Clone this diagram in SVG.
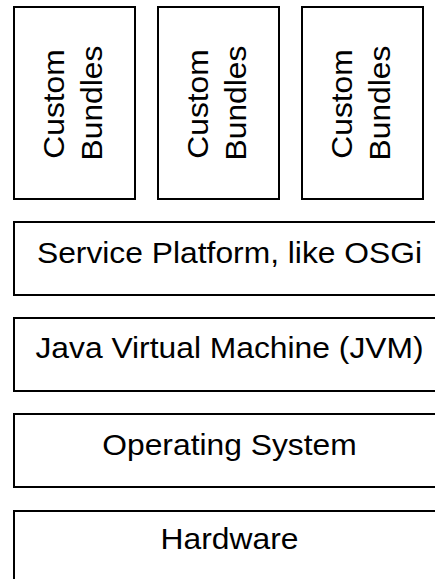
<svg xmlns="http://www.w3.org/2000/svg" width="435" height="579" viewBox="0 0 435 579">
  <style>
    .box { fill: #ffffff; stroke: #000000; stroke-width: 2; }
    .lbl { font-family: "Liberation Sans", Arial, sans-serif; font-size: 30px; fill: #000000; text-anchor: middle; }
  </style>
  <rect width="435" height="579" fill="#ffffff"/>

  <!-- Bundle columns (labels read bottom to top) -->
  <g id="bundle1">
    <rect class="box" x="14" y="7" width="121" height="192"/>
    <text class="lbl" transform="translate(63.5,104) rotate(-90) scale(1.06,1)">Custom</text>
    <text class="lbl" transform="translate(101.5,103) rotate(-90) scale(1.06,1)">Bundles</text>
  </g>
  <g id="bundle2">
    <rect class="box" x="158" y="7" width="121" height="192"/>
    <text class="lbl" transform="translate(207.5,104) rotate(-90) scale(1.06,1)">Custom</text>
    <text class="lbl" transform="translate(245.5,103) rotate(-90) scale(1.06,1)">Bundles</text>
  </g>
  <g id="bundle3">
    <rect class="box" x="302" y="7" width="121" height="192"/>
    <text class="lbl" transform="translate(351.5,104) rotate(-90) scale(1.06,1)">Custom</text>
    <text class="lbl" transform="translate(389.5,103) rotate(-90) scale(1.06,1)">Bundles</text>
  </g>

  <!-- Layer stack -->
  <g id="service-platform">
    <rect class="box" x="14" y="222" width="431" height="73"/>
    <text class="lbl" transform="translate(229.5,262.7) scale(1.06,1)">Service Platform, like OSGi</text>
  </g>
  <g id="jvm">
    <rect class="box" x="14" y="318" width="431" height="73"/>
    <text class="lbl" transform="translate(229.5,358.3) scale(1.06,1)">Java Virtual Machine (JVM)</text>
  </g>
  <g id="os">
    <rect class="box" x="14" y="414" width="431" height="73"/>
    <text class="lbl" transform="translate(229.5,454.5) scale(1.06,1)">Operating System</text>
  </g>
  <g id="hardware">
    <rect class="box" x="14" y="511" width="431" height="73"/>
    <text class="lbl" transform="translate(229.5,549.3) scale(1.06,1)">Hardware</text>
  </g>

  <g id="connectors"></g>
</svg>
